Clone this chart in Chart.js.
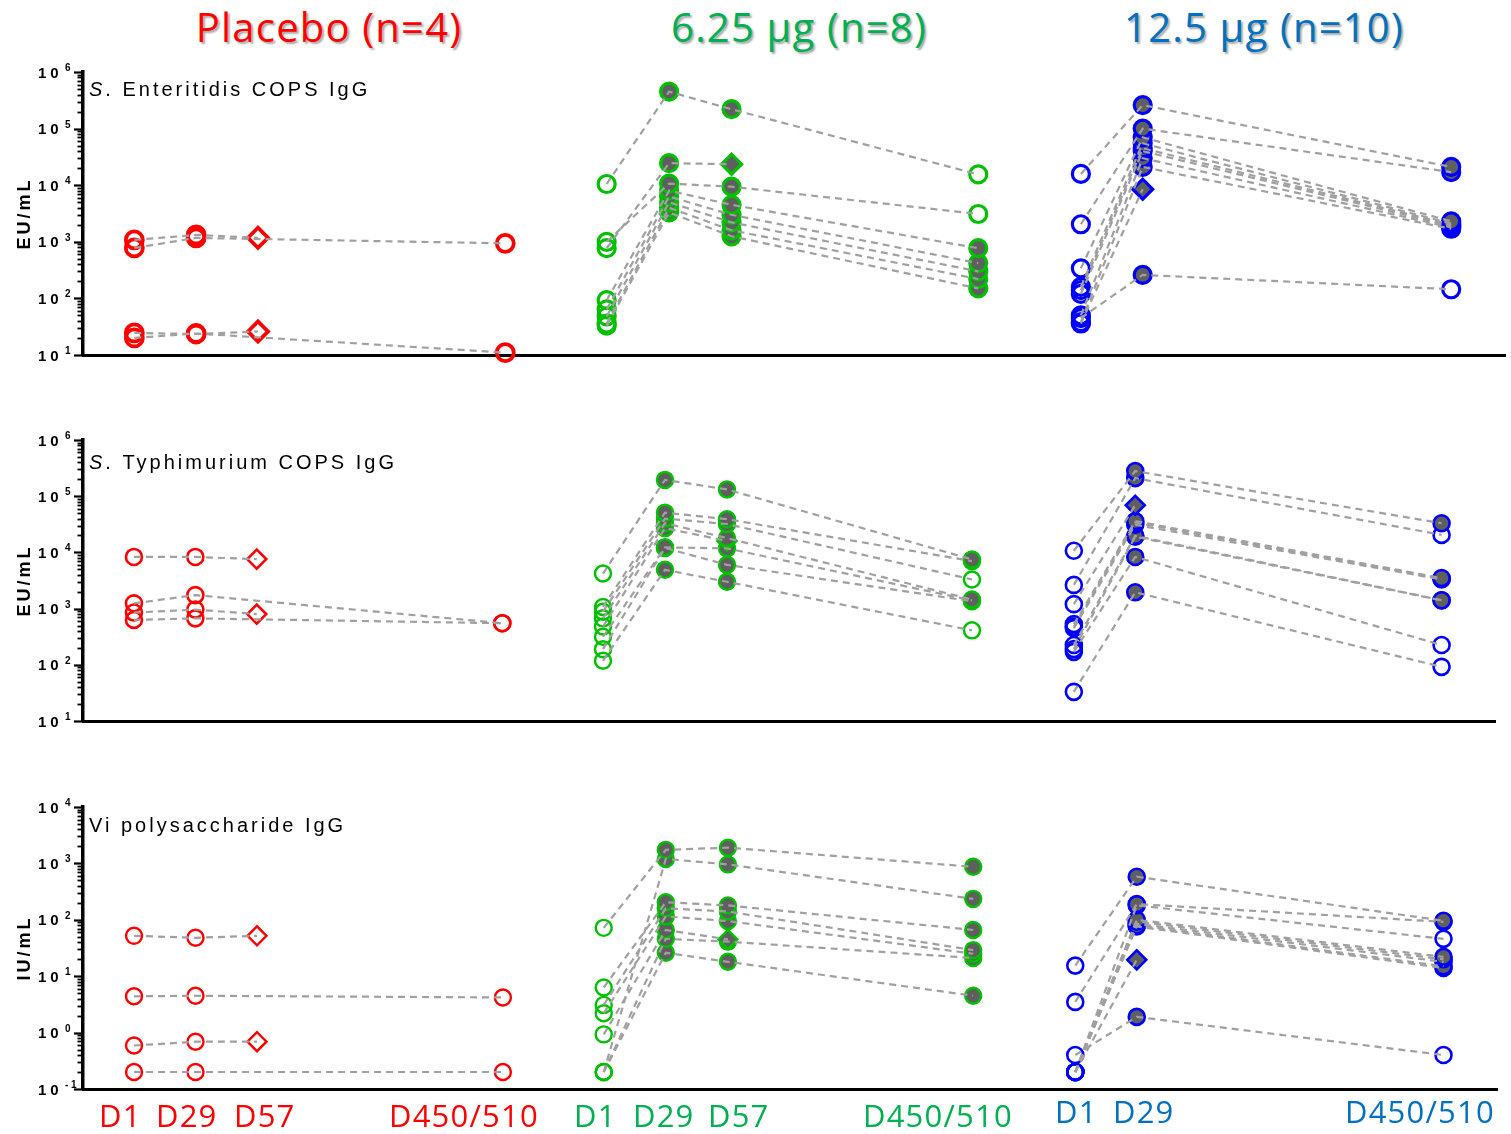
<!DOCTYPE html>
<html>
<head>
<meta charset="utf-8">
<script src="https://cdn.jsdelivr.net/npm/chart.js@4.4.1/dist/chart.umd.min.js"></script>
<style>
  body { margin: 0; background: #fff; }
  #page { position: relative; width: 1511px; height: 1134px; overflow: hidden; background: #fff; }
  canvas { position: absolute; left: 0; }
  .head { position: absolute; top: 7px; font: 40px/40px "Open Sans", sans-serif; letter-spacing: 1.2px;
          white-space: nowrap; transform: translateX(-50%); text-shadow: 2px 2px 2px rgba(0,0,0,0.35); }
  .tp { position: absolute; font: 31px/31px "Open Sans", sans-serif; letter-spacing: 1.2px; white-space: nowrap; }
</style>
</head>
<body>
<div id="page">
  <div class="head" style="left:329px;color:#ff0000">Placebo (n=4)</div>
  <div class="head" style="left:799px;color:#00b050">6.25 µg (n=8)</div>
  <div class="head" style="left:1264px;color:#0070c0">12.5 µg (n=10)</div>

  <canvas id="c1" width="1511" height="310" style="top:60px"></canvas>
  <canvas id="c2" width="1511" height="302" style="top:428px"></canvas>
  <canvas id="c3" width="1511" height="300" style="top:795px"></canvas>

  <span class="tp" style="left:99px;top:1100px;color:#ff0000">D1</span>
  <span class="tp" style="left:156px;top:1100px;color:#ff0000">D29</span>
  <span class="tp" style="left:234px;top:1100px;color:#ff0000">D57</span>
  <span class="tp" style="left:389px;top:1100px;color:#ff0000">D450/510</span>
  <span class="tp" style="left:574px;top:1100px;color:#00b050">D1</span>
  <span class="tp" style="left:633px;top:1100px;color:#00b050">D29</span>
  <span class="tp" style="left:708px;top:1100px;color:#00b050">D57</span>
  <span class="tp" style="left:863px;top:1100px;color:#00b050">D450/510</span>
  <span class="tp" style="left:1055px;top:1096px;color:#0070c0">D1</span>
  <span class="tp" style="left:1113px;top:1096px;color:#0070c0">D29</span>
  <span class="tp" style="left:1345px;top:1096px;color:#0070c0">D450/510</span>
</div>
<script>
// time points: D1, D29, D57, D450/510 (null = not sampled)
const timepoints = ['D1', 'D29', 'D57', 'D450/510'];
const groups = ['Placebo (n=4)', '6.25 µg (n=8)', '12.5 µg (n=10)'];

// S. Enteritidis COPS IgG, EU/mL - one row per subject
const entPlacebo = [
  [1080, 1320, 1180, null],
  [780, 1170, null, 940],
  [24.5, 23.5, 26, null],
  [20, 24, null, 11]
];
const entLow = [
  [10500, 450000, 220000, 15500],
  [770, 24500, 23500, null],
  [1000, 10700, 9400, 3100],
  [93, 8000, 4500, 770],
  [64, 6300, 3000, 420],
  [48, 5000, 2200, 300],
  [36, 4000, 1600, 220],
  [33, 3300, 1250, 150]
];
const entLowResp = [0, 0, 0, 1, 1, 1, 1, 1];
const entHigh = [
  [15800, 260000, null, 21000],
  [2040, 100000, null, 17000],
  [340, 70000, null, 2300],
  [160, 55000, null, 2100],
  [140, 45000, null, 2000],
  [120, 40000, null, 1900],
  [50, 30000, null, 1800],
  [38, 21000, null, 1700],
  [36, 8500, null, null],
  [45, 260, null, 145]
];
const entHighResp = [1, 1, 1, 1, 1, 1, 1, 1, 0, 0];

// S. Typhimurium COPS IgG, EU/mL
const typPlacebo = [
  [8300, 8300, 7600, null],
  [1240, 1740, null, 550],
  [850, 960, 800, null],
  [630, 670, null, 550]
];
const typLow = [
  [4200, 195000, 132000, 7500],
  [1070, 51000, 39000, 7000],
  [880, 40000, 32000, 3300],
  [670, 33000, 18000, 1450],
  [480, 27000, 16000, null],
  [315, 12300, 11800, 1400],
  [190, 12000, 6000, 1350],
  [118, 4900, 3000, 410]
];
const typLowResp = [1, 1, 0, 1, 0, 1, 1, 0];
const typHigh = [
  [10700, 280000, null, 33000],
  [2640, 210000, null, 20500],
  [1200, 69000, null, null],
  [530, 36000, null, 3500],
  [480, 34000, null, 3400],
  [450, 31000, null, 3300],
  [225, 19700, null, 1410],
  [190, 19000, null, 1400],
  [170, 8300, null, 225],
  [33, 1950, null, 92]
];
const typHighResp = [1, 0, 0, 1, 1, 1, 1, 1, 0, 0];

// Vi polysaccharide IgG, IU/mL
const viPlacebo = [
  [52, 48, 52, null],
  [4.4, 4.5, null, 4.2],
  [0.59, 0.69, 0.69, null],
  [0.2, 0.2, null, 0.2]
];
const viLow = [
  [72, 1740, 1900, 870],
  [0.2, 1200, 960, 235],
  [6.3, 205, 180, 66],
  [3.1, 160, 140, 29],
  [2.2, 115, 95, 25],
  [0.93, 66, 45, null],
  [0.2, 46, 41, 21],
  [0.2, 26, 18, 4.5]
];
const viLowResp = [1, 1, 1, 1, 1, 0, 1, 1];
const viHigh = [
  [15.4, 580, null, 96],
  [3.5, 190, null, 92],
  [0.2, 180, null, 46],
  [0.2, 100, null, 22],
  [0.2, 93, null, 20],
  [0.2, 80, null, 15],
  [0.2, 76, null, 14],
  [0.2, 19.5, null, null],
  [0.4, 1.9, null, 0.4],
  [0.2, 85, null, 18]
];
const viHighResp = [1, 1, 0, 1, 1, 1, 1, 0, 0, 1];

// decade exponents of the y axes
const copsExponents = [1, 2, 3, 4, 5, 6];
const viExponents = [-1, 0, 1, 2, 3, 4];

// where each time point sits on the shared x axis (0..23)
const xSlots = [
  [0.83, 1.83, 2.83, 6.83],
  [8.47, 9.48, 10.49, 14.48],
  [16.14, 17.14, null, 22.13]
];
const markColors = ['#ff0000', '#00c000', '#0000ff'];
const lineGrey = '#a0a0a0';
const fillGrey = '#5f5f5f';

function subjectSets(rows, resp, g, p) {
  const sets = [];
  rows.forEach((row, i) => {
    const pts = [];
    row.forEach((v, t) => { if (v !== null) pts.push({ x: xSlots[g][t], y: v, t: t }); });
    const last = pts[pts.length - 1].t;
    const shape = pts.map(pt => (pt.t === last && pt.t < 3) ? 'rectRot' : 'circle');
    const filled = pts.map(pt => g > 0 && (pt.t === 1 || pt.t === 2 || (pt.t === 3 && resp[i] === 1)));
    sets.push({
      order: 0, data: pts, borderColor: lineGrey, borderWidth: 2.2, borderDash: [7, 5],
      pointRadius: 0, tension: 0, clip: false
    });
    sets.push({
      order: 1, data: pts, showLine: false, clip: false,
      pointStyle: shape,
      pointRadius: shape.map(s => s === 'rectRot' ? p.r + 1.5 : p.r),
      pointBorderWidth: p.bw[g],
      pointBorderColor: markColors[g],
      pointBackgroundColor: filled.map(f => f ? fillGrey : 'rgba(0,0,0,0)')
    });
  });
  return sets;
}

const axisText = {
  id: 'axisText',
  afterDraw(chart, args, o) {
    const { ctx, chartArea, scales: { y } } = chart;
    ctx.save();
    ctx.fillStyle = '#000';
    ctx.strokeStyle = '#000';
    // tick marks
    y.ticks.forEach(tk => {
      const py = Math.round(y.getPixelForValue(tk.value)) + 0.5;
      const major = Math.abs(Math.log10(tk.value) - Math.round(Math.log10(tk.value))) < 1e-9;
      ctx.lineWidth = major ? 2.2 : 1.8;
      ctx.beginPath();
      ctx.moveTo(chartArea.left - (major ? 9 : 5.5), py);
      ctx.lineTo(chartArea.left, py);
      ctx.stroke();
    });
    // 10^n labels
    o.exps.forEach(e => {
      const py = y.getPixelForValue(Math.pow(10, e));
      ctx.font = 'bold 15px "Liberation Sans", Arial, sans-serif';
      ctx.letterSpacing = '4px';
      ctx.textAlign = 'left';
      ctx.textBaseline = 'middle';
      ctx.fillText('10', 38, py + 1.5);
      ctx.font = 'bold 10px "Liberation Sans", Arial, sans-serif';
      ctx.letterSpacing = '0px';
      ctx.textBaseline = 'alphabetic';
      ctx.fillText(String(e).replace('-', '- '), 65, py - 1);
    });
    // unit
    ctx.save();
    ctx.translate(25, (chartArea.top + chartArea.bottom) / 2);
    ctx.rotate(-Math.PI / 2);
    ctx.font = 'bold 18px "Liberation Sans", Arial, sans-serif';
    ctx.letterSpacing = '3px';
    ctx.textAlign = 'center';
    ctx.textBaseline = 'middle';
    ctx.fillText(o.unit, 0, 0);
    ctx.restore();
    // panel name
    ctx.letterSpacing = '3px';
    ctx.textAlign = 'left';
    ctx.textBaseline = 'alphabetic';
    let x = chartArea.left + 6;
    const by = chartArea.top + o.nameDy;
    if (o.italic) {
      ctx.font = 'italic 20px "Liberation Sans", Arial, sans-serif';
      ctx.fillText(o.italic, x, by);
      x += ctx.measureText(o.italic).width;
    }
    ctx.font = '20px "Liberation Sans", Arial, sans-serif';
    ctx.fillText(o.name, x, by);
    ctx.restore();
  }
};

function makePanel(id, p) {
  const datasets = [].concat(
    subjectSets(p.rows[0], null, 0, p),
    subjectSets(p.rows[1], p.resp[1], 1, p),
    subjectSets(p.rows[2], p.resp[2], 2, p)
  );
  new Chart(document.getElementById(id), {
    type: 'line',
    data: { datasets: datasets },
    plugins: [axisText],
    options: {
      responsive: false,
      animation: false,
      events: [],
      layout: { padding: p.pad, autoPadding: false },
      plugins: {
        legend: { display: false },
        tooltip: { enabled: false },
        axisText: { exps: p.exps, unit: p.unit, italic: p.italic, name: p.name, nameDy: p.nameDy }
      },
      scales: {
        x: {
          type: 'linear', min: 0, max: 23,
          ticks: { display: false },
          grid: { display: false },
          border: { display: true, color: '#000', width: 3 },
          afterFit: s => { s.height = 0; }
        },
        y: {
          type: 'logarithmic',
          min: Math.pow(10, p.exps[0]),
          max: Math.pow(10, p.exps[p.exps.length - 1]),
          ticks: { display: false },
          grid: { display: false },
          border: { display: true, color: '#000', width: 3.5 },
          afterBuildTicks: s => {
            const t = [];
            p.exps.forEach((e, k) => {
              const top = k === p.exps.length - 1 ? 1 : 9;
              for (let m = 1; m <= top; m++) t.push({ value: m * Math.pow(10, e) });
            });
            s.ticks = t;
          },
          afterFit: s => { s.width = 83; }
        }
      }
    }
  });
}

makePanel('c1', {
  rows: [entPlacebo, entLow, entHigh], resp: [null, entLowResp, entHighResp],
  exps: copsExponents, unit: 'EU/mL', italic: 'S', name: '. Enteritidis COPS IgG', nameDy: 23.5,
  pad: { top: 12, bottom: 15, left: 0, right: 6 }, r: 8.5, bw: [3.8, 3.2, 3.2]
});
makePanel('c2', {
  rows: [typPlacebo, typLow, typHigh], resp: [null, typLowResp, typHighResp],
  exps: copsExponents, unit: 'EU/mL', italic: 'S', name: '. Typhimurium COPS IgG', nameDy: 29,
  pad: { top: 12, bottom: 9, left: 0, right: 16 }, r: 8, bw: [2.6, 2.5, 2.6]
});
makePanel('c3', {
  rows: [viPlacebo, viLow, viHigh], resp: [null, viLowResp, viHighResp],
  exps: viExponents, unit: 'IU/mL', italic: '', name: 'Vi polysaccharide IgG', nameDy: 25,
  pad: { top: 12, bottom: 6, left: 0, right: 14 }, r: 8, bw: [2.4, 2.4, 2.6]
});
</script>
</body>
</html>
